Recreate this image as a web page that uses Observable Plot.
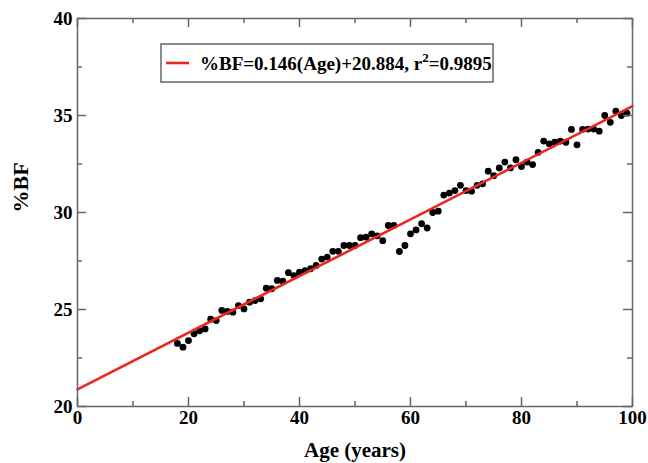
<!DOCTYPE html>
<html><head><meta charset="utf-8">
<script src="https://cdn.jsdelivr.net/npm/d3@7"></script>
<script src="https://cdn.jsdelivr.net/npm/@observablehq/plot@0.6"></script>
<style>body{margin:0;background:#fff}</style>
</head><body><div id="chart"></div>
<script>
const ages = [18,19,20,21,22,23,24,25,26,27,28,29,30,31,32,33,34,35,36,37,38,39,40,41,42,43,44,45,46,47,48,49,50,51,52,53,54,55,56,57,58,59,60,61,62,63,64,65,66,67,68,69,70,71,72,73,74,75,76,77,78,79,80,81,82,83,84,85,86,87,88,89,90,91,92,93,94,95,96,97,98,99];
const bodyFat = [23.25,23.06,23.4,23.75,23.9,24.0,24.5,24.43,24.95,24.9,24.86,25.2,25.03,25.38,25.46,25.55,26.1,26.07,26.5,26.46,26.9,26.75,26.92,27.0,27.1,27.27,27.6,27.7,28.0,28.0,28.3,28.3,28.3,28.7,28.73,28.9,28.8,28.55,29.33,29.33,27.99,28.3,28.9,29.1,29.42,29.2,30.0,30.07,30.9,31.0,31.13,31.4,31.13,31.1,31.4,31.48,32.13,31.9,32.3,32.6,32.3,32.72,32.37,32.6,32.47,33.1,33.68,33.54,33.62,33.68,33.62,34.28,33.49,34.28,34.3,34.3,34.19,35.0,34.65,35.22,35.0,35.12];
const xTicks = [0,20,40,60,80,100];
const xMinor = [10,30,50,70,90];
const yTicks = [20,25,30,35,40];
const yMinor = [22.5,27.5,32.5,37.5];
const fitSlope = 0.146;
const fitIntercept = 20.884;
const fitAges = [0,100];
const legendMain = "%BF=0.146(Age)+20.884, r";
const legendSup = "2";
const legendTail = "=0.9895";
const xLabel = "Age (years)";
const yLabel = "%BF";

const W = 648, H = 463, mL = 77, mR = 16, mT = 18, mB = 57;
const innerW = W - mL - mR, innerH = H - mT - mB;
const font = "Liberation Serif";
const red = "#e8281c";
const axisGray = "#666";

const points = ages.map((a, i) => ({age: a, bf: bodyFat[i]}));
const fitLine = fitAges.map(a => ({age: a, bf: fitSlope * a + fitIntercept}));

function legendMark(index, scales, values, dims) {
  const g = d3.create("svg:g");
  const x0 = dims.marginLeft + 84, y0 = dims.marginTop + 26;
  g.append("rect").attr("x", x0).attr("y", y0).attr("width", 332).attr("height", 38)
    .attr("fill", "#fff").attr("stroke", axisGray).attr("stroke-width", 1.5);
  g.append("line").attr("x1", x0 + 5).attr("x2", x0 + 28).attr("y1", y0 + 19).attr("y2", y0 + 19)
    .attr("stroke", red).attr("stroke-width", 2.6);
  const t = g.append("text").attr("x", x0 + 39).attr("y", y0 + 26)
    .attr("text-anchor", "start")
    .attr("font-family", font).attr("font-weight", "bold").attr("font-size", 19).attr("fill", "#000");
  t.append("tspan").text(legendMain);
  t.append("tspan").attr("dy", -8).attr("font-size", 13).text(legendSup);
  t.append("tspan").attr("dy", 8).text(legendTail);
  return g.node();
}

const chart = Plot.plot({
  width: W, height: H,
  marginLeft: mL, marginRight: mR, marginTop: mT, marginBottom: mB,
  style: {fontFamily: font, fontWeight: "bold", fontSize: "19px", background: "#fff", color: "#000", overflow: "visible"},
  x: {domain: [0, 100]},
  y: {domain: [20, 40]},
  marks: [
    Plot.dot(points, {x: "age", y: "bf", r: 3.4, fill: "#000", stroke: "none"}),
    Plot.line(fitLine, {x: "age", y: "bf", stroke: red, strokeWidth: 2.6}),
    Plot.tickX(xTicks, {x: d => d, insetTop: innerH - 9, stroke: axisGray, strokeWidth: 1.5}),
    Plot.tickX(xTicks, {x: d => d, insetBottom: innerH - 9, stroke: axisGray, strokeWidth: 1.5}),
    Plot.tickX(xMinor, {x: d => d, insetTop: innerH - 5, stroke: axisGray, strokeWidth: 1.5}),
    Plot.tickX(xMinor, {x: d => d, insetBottom: innerH - 5, stroke: axisGray, strokeWidth: 1.5}),
    Plot.tickY(yTicks, {y: d => d, insetRight: innerW - 9, stroke: axisGray, strokeWidth: 1.5}),
    Plot.tickY(yTicks, {y: d => d, insetLeft: innerW - 9, stroke: axisGray, strokeWidth: 1.5}),
    Plot.tickY(yMinor, {y: d => d, insetRight: innerW - 5, stroke: axisGray, strokeWidth: 1.5}),
    Plot.tickY(yMinor, {y: d => d, insetLeft: innerW - 5, stroke: axisGray, strokeWidth: 1.5}),
    Plot.frame({stroke: axisGray, strokeWidth: 1.5}),
    Plot.axisX({ticks: xTicks, tickSize: 0, tickPadding: 4, label: null, fontSize: 19, fontWeight: "bold"}),
    Plot.axisY({ticks: yTicks, tickSize: 0, tickPadding: 5, label: null, fontSize: 19, fontWeight: "bold"}),
    Plot.text([xLabel], {frameAnchor: "bottom", dy: 44, fontSize: 21, fontWeight: "bold", lineAnchor: "middle"}),
    Plot.text([yLabel], {frameAnchor: "left", dx: -57, rotate: -90, fontSize: 22, fontWeight: "bold"}),
    legendMark
  ]
});
document.getElementById("chart").appendChild(chart);
</script>
</body></html>
